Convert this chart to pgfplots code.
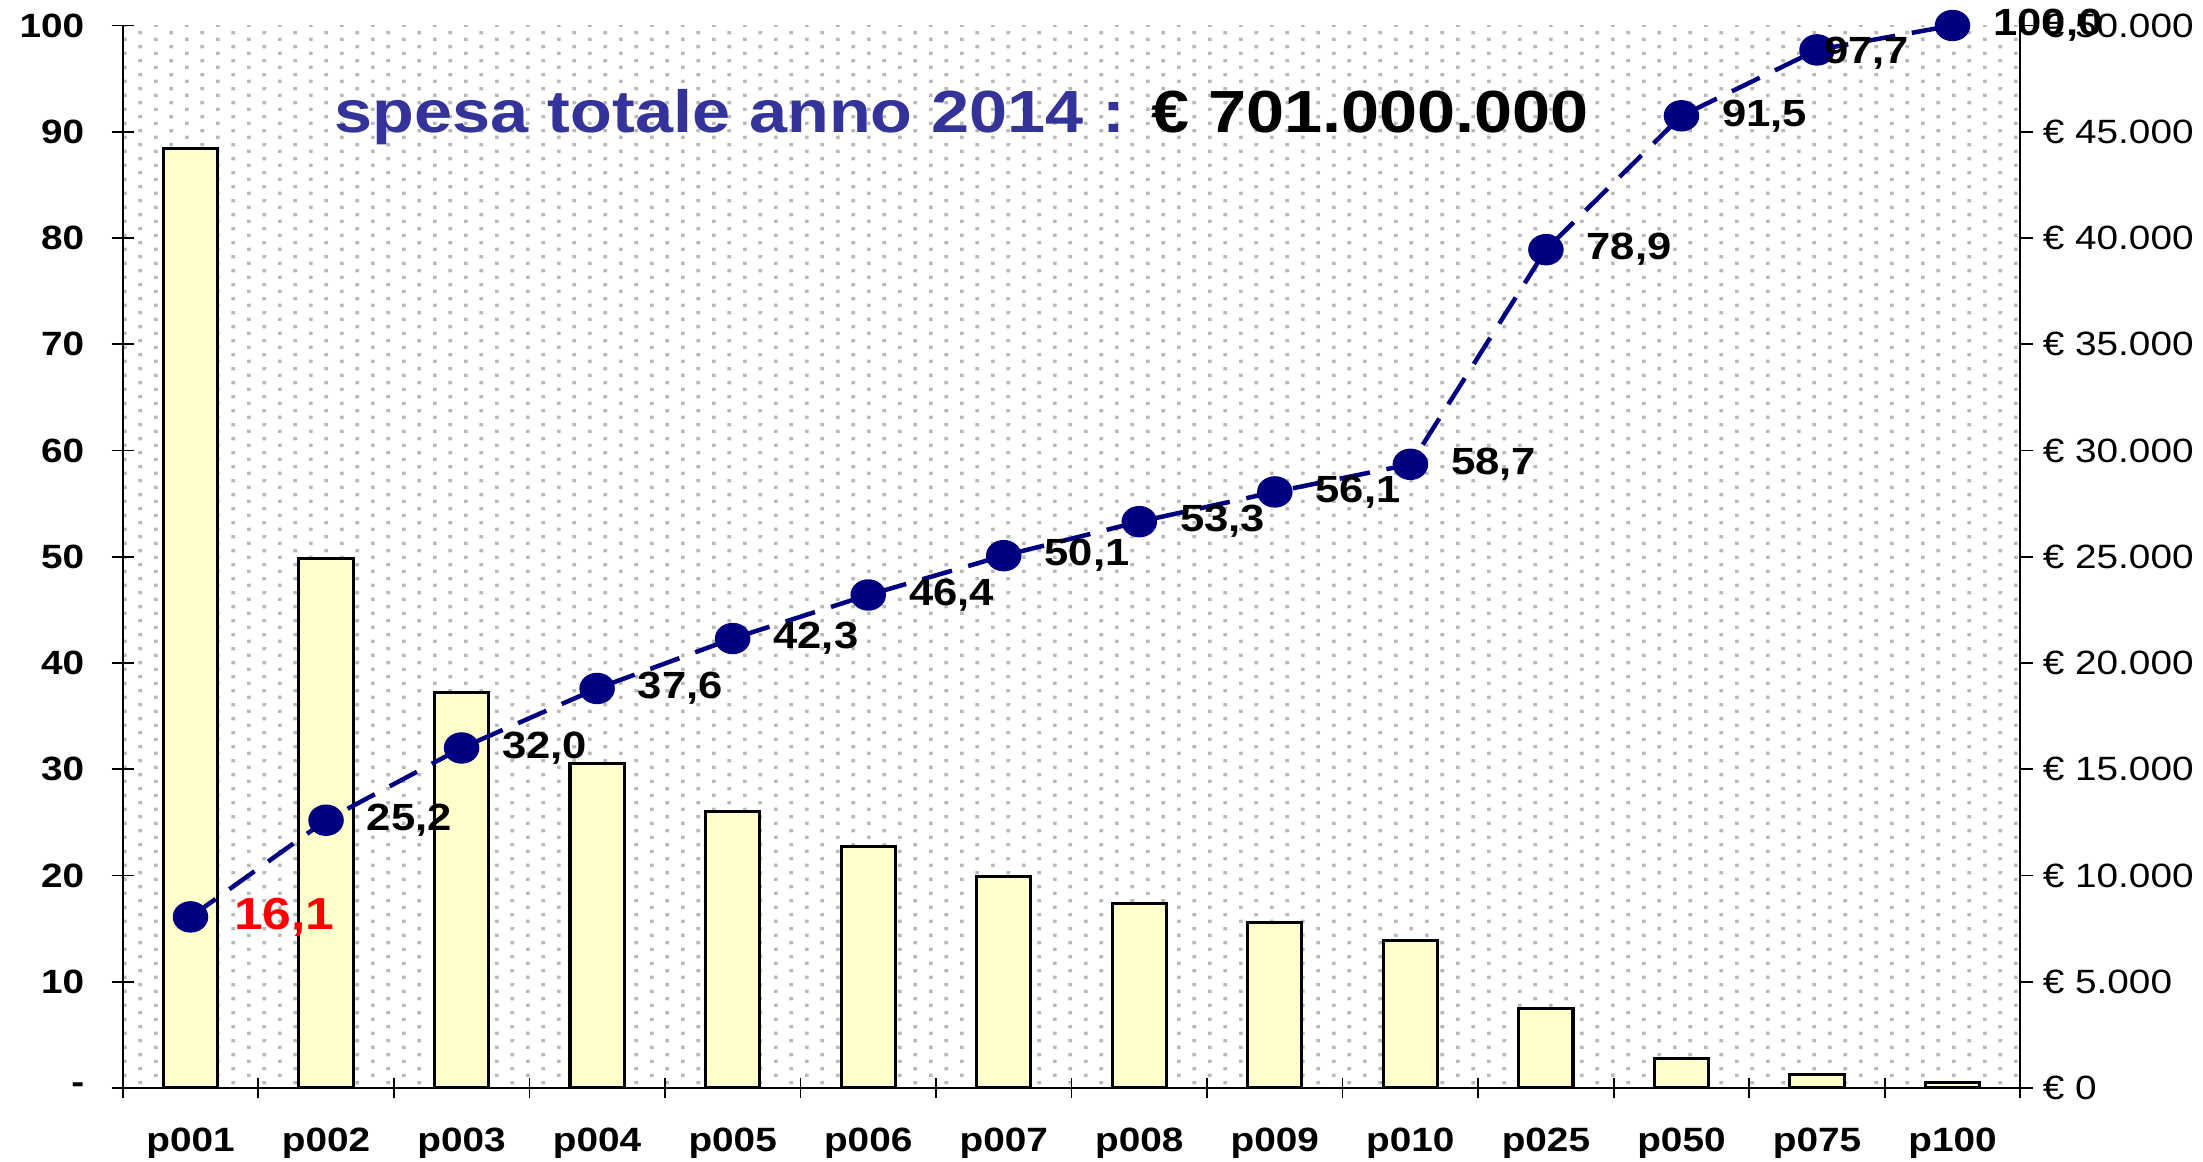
\documentclass[border=0pt]{standalone}
\usepackage{pgfplots}
\pgfplotsset{compat=1.18}
\usepackage{fontspec}
\setmainfont{Liberation Sans}[FakeStretch=1.15]
\usetikzlibrary{patterns.meta}
\definecolor{navyline}{HTML}{000080}
\definecolor{titleblue}{HTML}{333399}
\definecolor{barfill}{HTML}{FFFFCC}
\definecolor{dotgray}{HTML}{B8B8B8}
\pgfdeclarepattern{
  name=bgdots,
  type=uncolored,
  bottom left={\pgfpoint{0pt}{0pt}},
  top right={\pgfpoint{11pt}{5pt}},
  tile size={\pgfpoint{11pt}{5pt}},
  code={
    \pgfpathrectangle{\pgfpoint{0pt}{0pt}}{\pgfpoint{1.3pt}{1.3pt}}
    \pgfpathrectangle{\pgfpoint{5.5pt}{2.5pt}}{\pgfpoint{1.3pt}{1.3pt}}
    \pgfusepath{fill}
  }
}
\begin{document}
\begin{tikzpicture}
% ---------- right axis: bars (euro) ----------
\begin{axis}[
  scale only axis, width=676pt, height=378.5pt,
  xmin=-0.5, xmax=13.5, ymin=0, ymax=50000,
  axis y line*=right, axis x line=none,
  scaled y ticks=false,
  ytick={0,5000,...,50000},
  yticklabels={€ 0,€ 5.000,€ 10.000,€ 15.000,€ 20.000,€ 25.000,€ 30.000,€ 35.000,€ 40.000,€ 45.000,€ 50.000},
  tick align=outside, major tick length=4.5pt,
  tick style={black, line width=0.6pt},
  axis line style={black, line width=0.6pt},
  yticklabel style={font=\fontsize{12}{12}\selectfont},
  axis background/.style={pattern=bgdots, pattern color=dotgray},
  ybar, bar width=0.4,
]
\addplot[ybar, fill=barfill, draw=black, line width=1.1pt] coordinates {
  (0,44200) (1,24900) (2,18600) (3,15250) (4,13000) (5,11350) (6,9950)
  (7,8700) (8,7800) (9,6950) (10,3750) (11,1400) (12,650) (13,250)
};
\end{axis}
% ---------- left axis: cumulative line ----------
\begin{axis}[
  scale only axis, width=676pt, height=378.5pt,
  xmin=-0.5, xmax=13.5, ymin=0, ymax=100,
  axis x line*=bottom, axis y line*=left,
  clip=false,
  xtick={0,...,13},
  xticklabels={p001,p002,p003,p004,p005,p006,p007,p008,p009,p010,p025,p050,p075,p100},
  minor xtick={-0.5,0.5,...,13.5},
  major x tick style={draw=none},
  minor tick length=7pt,
  ytick={0,10,...,100},
  yticklabels={-,10,20,30,40,50,60,70,80,90,100},
  tick align=center, major tick length=8pt,
  tick style={black, line width=0.6pt},
  axis line style={black, line width=0.6pt},
  yticklabel style={font=\bfseries\fontsize{12}{12}\selectfont, inner xsep=7pt, xshift=-2.5pt},
  xticklabel style={font=\bfseries\fontsize{12}{12}\selectfont, inner sep=1pt, yshift=-9pt},
  /pgf/number format/.cd, fixed, fixed zerofill, precision=1, use comma, assume math mode=true,
]
\addplot[navyline, line width=1.6pt, dash pattern=on 11pt off 6pt,
  mark=*, mark size=4.8pt, mark options={solid, xscale=1.15, fill=navyline, draw=navyline}]
  coordinates {
  (0,16.1) (1,25.2) (2,32.0) (3,37.6) (4,42.3) (5,46.4) (6,50.1)
  (7,53.3) (8,56.1) (9,58.7) (10,78.9) (11,91.5) (12,97.7) (13,100.0)
};
% black value labels
\addplot[draw=none, mark=none, point meta=y,
  nodes near coords={\pgfmathprintnumber{\pgfplotspointmeta}},
  nodes near coords style={anchor=west, xshift=11pt, text=black, font=\bfseries\fontsize{13.5}{13.5}\selectfont}]
  coordinates {
  (1,25.2) (2,32.0) (3,37.6) (4,42.3) (5,46.4) (6,50.1)
  (7,53.3) (8,56.1) (9,58.7) (10,78.9) (11,91.5) (13,100.0)
};
\addplot[draw=none, mark=none, point meta=y,
  nodes near coords={\pgfmathprintnumber{\pgfplotspointmeta}},
  nodes near coords style={anchor=west, xshift=-1pt, yshift=-1pt, text=black, font=\bfseries\fontsize{13.5}{13.5}\selectfont}]
  coordinates {(12,97.7)};
% red first label
\addplot[draw=none, mark=none, point meta=y,
  nodes near coords={\pgfmathprintnumber{\pgfplotspointmeta}},
  nodes near coords style={anchor=west, xshift=12pt, text=red, font=\bfseries\fontsize{16}{16}\selectfont}]
  coordinates {(0,16.1)};
\node[anchor=west, text=titleblue, font=\bfseries\fontsize{21.2}{21.2}\selectfont, inner sep=0pt]
  at (axis cs:1.06,91.4) {spesa totale anno 2014 : \textcolor{black}{€ 701.000.000}};
\end{axis}
\end{tikzpicture}
\end{document}
